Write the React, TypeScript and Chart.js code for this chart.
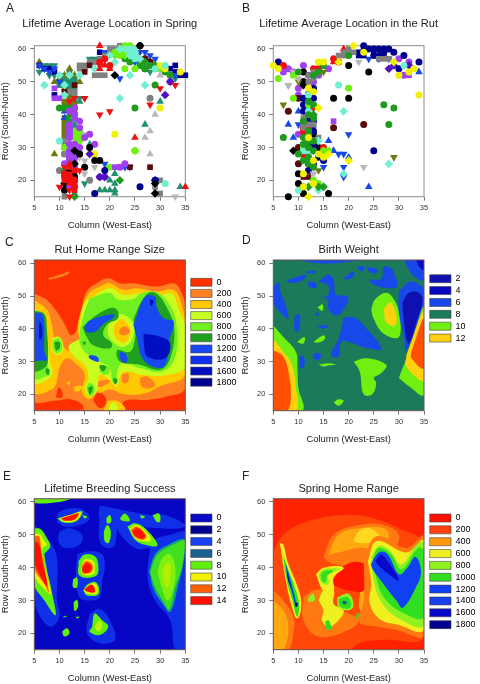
import React, { useEffect, useRef } from "react";
import { Chart, registerables } from "chart.js";
Chart.register(...registerables);

const FONT = "'Liberation Sans', Arial, sans-serif";
const xTicks = [5, 10, 15, 20, 25, 30, 35];
const yTicks = [20, 30, 40, 50, 60];

// ---- Panel A: lifetime average location in spring (flat x,y pairs) ----
const springRedDown = [10,18, 11,21, 12,15, 12,17, 12,22, 13,19, 14,23, 15,45, 18,40, 20,41, 28,43, 30,48, 33,49, 12,44, 13,45, 18,55, 11,24];
const springRedUp = [18,61, 25,33, 35,18, 18,54, 19,55, 12,25, 12,19, 20,54];
const springRedCircle = [18,56, 19,57, 20,55, 13,18, 12,21, 11,22, 13,20];
const springRedSquare = [13,19, 13,17, 12,24, 12,20, 11,20, 13,23];
const springForestCircle = [10,42, 25,42, 29,49, 24,56, 26,55, 27,54, 28,55, 31,53, 23,57, 29,54, 32,52, 11,42, 12,39];
const springForestDiamond = [22,20, 27,56, 29,55, 12,42, 13,15, 11,23];
const springLimeCircle = [20,24, 25,29, 23,54, 25,54, 22,58, 23,61, 21,59, 11,30, 14,33, 13,31, 22,59, 24,61, 13,35];
const springLimeDiamond = [22,60, 23,58, 14,34, 13,33, 14,32, 30,54, 25,29, 21,58, 23,59, 14,35];
const springAquaDiamond = [7,49, 11,46, 22,45, 24,52, 27,49, 24,59, 25,59, 23,60, 22,60, 24,58, 25,58, 20,58, 17,54, 14,52, 10,52, 26,57, 21,56, 19,57, 12,52, 11,49, 13,39];
const springAquaCircle = [24,60, 25,60, 25,57, 31,19, 10,32, 29,54, 31,55];
const springYellow = [21,34, 30,42, 17,28, 31,54, 34,53, 30,55];
const springLightUp = [29,40, 28,35, 27,33, 28,28, 30,52, 14,29];
const springLightDown = [15,34, 15,22, 15,26, 17,24, 33,15, 14,27, 13,26];
const springGraySquare = [14,55, 15,55, 15,54, 16,56, 17,56, 17,52, 18,52, 19,52, 19,58, 20,60, 21,60, 13,47, 12,47, 13,46, 30,16, 29,18, 30,20, 29,20, 11,15, 11,28, 14,54, 18,57, 20,59, 21,59, 22,61, 11,32];
const springGrayCircle = [28,45, 16,20, 10,23, 13,29, 11,28];
const springBlackCircle = [26,61, 15,24, 16,30, 17,26, 18,26, 13,21, 11,17, 12,20, 14,28];
const springBlackDiamond = [21,52, 26,61, 29,16, 29,19, 12,23, 11,19, 13,29, 13,25];
const springMaroonSquare = [24,24, 28,24, 15,53, 16,55, 11,47, 13,49, 13,22, 13,28];
const springMaroonCircle = [27,57, 27,54, 28,56];
const springNavyCircle = [17,16, 19,23, 26,18, 29,20];
const springNavySquare = [6,55, 7,54, 8,54, 9,53, 33,55, 33,53, 34,52, 35,52, 31,54, 32,54, 9,46, 18,59];
const springBlueDown = [19,25, 22,51, 24,24, 25,56, 23,24, 10,50, 28,58, 29,57, 19,59, 33,52, 7,54, 6,55, 9,54, 8,53, 26,59, 27,59];
const springBlueUp = [11,39, 12,29, 11,41];
const springPurpleCircle = [13,40, 12,41, 13,42, 14,38, 14,36, 12,34, 12,33, 12,31, 13,31, 14,30, 17,31, 16,34, 15,33, 11,25, 12,27, 12,26, 13,27, 13,24, 11,21, 11,18, 23,25, 22,24, 19,21, 18,21, 32,50, 12,37, 13,39, 12,28, 12,36, 12,35, 13,30, 13,28, 12,25, 12,18, 11,19, 12,29];
const springPurpleSquare = [9,48, 9,45, 10,45, 21,24, 22,24, 12,28, 12,27, 13,26];
const springIndigoDiamond = [31,46, 16,28, 32,50, 29,20, 18,21, 19,21];
const springOliveUp = [6,56, 12,54, 13,52, 14,50, 11,52, 9,50, 9,28, 11,48, 10,51, 12,52, 11,30];
const springOliveSquare = [11,35, 11,37, 11,33, 12,45, 11,44, 12,43, 12,42, 13,41, 11,36, 11,34, 11,38, 12,46, 12,44, 13,43, 28,55, 26,56, 30,54, 11,39, 12,40, 11,43, 12,47, 11,31];
const springTealDown = [7,54, 6,53, 8,55, 9,52, 10,52, 11,50, 12,50, 14,45, 15,45, 15,19, 7,55, 13,49, 16,57, 17,57, 13,38, 13,36, 28,53, 33,51, 8,52, 9,55];
const springTealUp = [13,37, 13,35, 13,33, 18,17, 19,17, 20,17, 21,16, 21,17, 20,20, 21,19, 21,22, 27,37, 30,44, 34,18, 13,16, 16,31, 13,39, 13,41, 14,44, 12,38];
const springTealSquare = [12,50, 13,51, 11,51, 12,49, 13,50, 11,49, 13,44, 11,22, 12,48, 32,52, 10,50, 11,50, 12,51, 10,49, 13,48, 12,53];

// ---- Panel B: lifetime average location in the rut ----
const rutBlack = [8,15, 11,16, 10,19, 10,22, 16,16, 24,53, 20,55, 17,45, 20,45, 14,30, 11,50, 13,34, 11,53, 12,31];
const rutBlackDiamond = [9,29, 14,29, 11,49, 13,31];
const rutYellow = [34,46, 30,52, 32,53, 33,54, 6,54, 11,22, 15,56, 14,56, 13,19, 11,18, 15,27, 12,48, 23,59, 5,55, 13,26, 12,33, 13,47, 14,28];
const rutYellowDiamond = [12,15, 21,61, 14,42, 29,56, 20,26, 16,28, 18,56];
const rutLime = [6,51, 20,48, 9,45, 9,52, 16,29, 15,29, 13,20, 14,19, 12,43, 11,30];
const rutAqua = [18,49, 10,17, 12,46, 31,55, 12,41, 11,29, 12,29];
const rutAquaDiamond = [19,41, 28,25, 19,22, 14,17, 14,32];
const rutForest = [27,43, 29,42, 28,37, 7,33, 20,58, 13,52, 12,33, 11,33, 12,32, 13,32, 12,30, 11,31, 12,27, 13,43, 12,44, 10,53, 12,35, 13,39, 12,25, 14,53, 11,38, 12,40, 10,28, 13,29, 11,26, 13,24, 15,55];
const rutForestDiamond = [15,18, 11,18, 12,18, 14,18, 13,40, 12,34];
const rutMaroon = [8,41, 17,36, 23,37, 10,45, 10,30, 10,25, 11,50];
const rutMaroonSquare = [12,21, 11,21];
const rutOliveDown = [7,43, 29,27, 14,23, 10,50, 15,53];
const rutNavy = [23,61, 24,60, 25,60, 26,60, 27,60, 28,60, 29,59, 25,29, 6,56, 30,54, 34,56, 13,45, 11,43, 11,41, 13,35, 12,38, 13,25, 12,23, 15,26, 14,27, 11,45, 27,59, 31,58, 13,30, 13,48, 12,42, 13,38, 25,58, 26,58];
const rutNavySquare = [22,58, 23,58, 23,60, 25,59, 27,58, 22,59, 12,31];
const rutBlueUp = [8,37, 9,33, 10,41, 16,32, 17,29, 20,27, 24,18, 34,53, 12,47];
const rutBlueDown = [20,34, 18,28, 19,28, 19,24, 19,21, 15,24, 10,37, 8,49, 24,57, 26,57, 13,36, 28,57, 13,29, 12,39, 12,36, 13,31, 11,31];
const rutPurple = [11,55, 16,54, 14,52, 10,48, 10,34, 8,54, 7,53, 6,55, 30,57, 32,56, 31,52, 13,50, 9,53, 10,46, 12,52];
const rutIndigoDiamond = [28,54, 29,55, 32,55];
const rutPurpleSquare = [17,38, 32,52, 12,50];
const rutGraySquare = [11,39, 11,37, 11,36, 12,37, 13,37, 12,50, 13,51, 13,53, 12,52, 18,58, 19,59, 20,60, 21,59, 28,57, 27,57, 26,57, 14,33, 12,28, 19,58, 20,59, 11,38];
const rutLightDown = [22,56, 23,24, 8,49, 13,22, 12,29, 9,53, 10,51];
const rutRed = [18,56, 17,57, 7,55, 14,54, 11,36, 12,36, 12,46, 11,35, 15,30, 13,54];
const rutRedUp = [19,60, 17,56, 11,28, 12,25, 12,36];
const rutRedDown = [12,48, 14,54, 13,42, 11,34, 11,27];

// ---- Legends ----
const rutRangeLabels = ["0","200","400","600","800","1000","1200","1400","1600","1800"];
const rutRangeColors = ["#ff3000","#ff8020","#ffc800","#c8ff20","#70f020","#20a020","#1848f0","#1030f0","#0010c0","#000090"];
const weightLabels = ["2","4","6","8","10","12"];
const weightColors = ["#1010b0","#0808c0","#1848e8","#1a7a5a","#70f010","#ffd010"];
const breedingLabels = ["0","2","4","6","8","10","12","14"];
const breedingColors = ["#0808c8","#000090","#1840f0","#1a6090","#60f010","#f0f000","#ff6000","#ff1000"];
const springRangeLabels = ["0","200","400","600","800","1000","1200","1400","1600","1800"];
const springRangeColors = ["#ff1000","#ff4010","#ff9a10","#f0f020","#90f020","#30e020","#1040f0","#1840e8","#0808c8","#000090"];

// ---- Contour bands, painted in order: [colour, x,y, x,y, ...] ----
type Band = [string, number[]];
const rutRangeBands: Band[] = [
  ["#ff3000",[5,61, 35,61, 35,15, 5,15]],
  ["#ff8020",[7.8,55.5, 10,56.5, 12,57.5, 11.5,56.5, 8,55]],
  ["#ff8020",[5,50.8, 7.5,48.8, 9.5,45.2, 11,41.5, 12.4,38, 13.8,41, 14.6,47.3, 15.4,51.4, 17.4,53.9, 19.7,55.4, 22,53.9, 24.7,53.9, 29.4,52.9, 32.7,53.9, 34,51.9, 35,46.3, 35,22, 31.3,19.3, 27.4,18.3, 23,18, 21.5,15, 15,15, 14.5,17, 12,18.5, 9,18, 5,18.3]],
  ["#ff3000",[16.7,18, 17.5,20.3, 19,19.5, 19.2,17, 18,15.8]],
  ["#ff3000",[9.3,19, 9.8,22, 10.5,21, 10.5,19]],
  ["#ffc800",[5,48.8, 7.5,45.8, 8.5,41.2, 9,37.5, 10.4,35, 12.4,33, 14,35.6, 13.6,40, 14.4,46, 15.8,50.8, 18.7,53.4, 20,54, 22.7,51.9, 25.4,52.4, 29.4,51.4, 32.7,51.9, 34.3,47.3, 35,40.7, 35,26, 30,22.5, 27,20.3, 23,20, 20,21.5, 18,20.5, 17.5,21, 16,18.5, 14.5,20.5, 15,26, 13.5,29, 11.5,31, 10,28, 9.5,24, 8.5,21.5, 5,20.8]],
  ["#ffc800",[19.5,18, 21.5,18, 23,16, 23,15, 19,15]],
  ["#c8ff20",[20,17, 21,17.5, 21.5,15, 20,15]],
  ["#ffc800",[11.3,23.5, 12,24, 12,22.8]],
  ["#ffc800",[13,22.5, 14.5,22.5, 14,21, 13,21]],
  ["#ff8020",[22.4,26, 23.6,26.4, 23.7,24, 23,23.4, 22.4,24]],
  ["#ff8020",[26,25, 27.5,25.4, 29,23, 28,21.8, 26.3,22.5]],
  ["#ff8020",[17,23.5, 19,24.4, 20,24, 18.5,22.4, 17,22.5]],
  ["#c8ff20",[5,46.3, 6.8,44.2, 7.5,40.2, 8.1,30, 8.5,26, 6.1,23.4, 5,23.4]],
  ["#c8ff20",[14,37, 14,41, 15,47.8, 16.7,49.8, 20,52.4, 22.7,50.3, 26,50.8, 29.4,49.8, 32.3,50.8, 33.7,45.8, 35,40.7, 35,28.5, 31.3,25.9, 26.7,25.9, 22.7,26.9, 21.4,22.4, 20,24.4, 18,26, 17.4,20.8, 16,19.3, 15,21.9, 15.8,25, 15,29, 13,31.5, 11.8,34.5]],
  ["#c8ff20",[8.5,37, 10,37.5, 10.8,34, 9.7,32, 8.5,33.5]],
  ["#70f020",[5,45.8, 6.5,44.7, 7.1,40.2, 7.5,30, 8.1,26, 7.5,25.5, 5,25]],
  ["#70f020",[16,49.3, 20,51, 21.5,49, 24.5,49, 26.5,51, 29.5,51, 32,47, 33.3,41, 33,31.5, 30.5,27, 26,28, 22.5,29.5, 21.5,27, 21.3,23.5, 20.5,24, 20,28, 18,30, 15,33, 14,36, 14,39, 14.8,44.2]],
  ["#70f020",[15.3,22, 16,23.5, 17,22, 16.7,20, 16,19.5]],
  ["#70f020",[8.7,36.5, 10,37, 10.5,34, 9.5,32.5, 8.7,34]],
  ["#70f020",[18.5,29, 20,28, 19.5,26, 18,27]],
  ["#c8ff20",[19.7,41.5, 22,44.5, 24.5,42, 24.5,37, 22.7,34.5, 21,35.5, 19.7,38]],
  ["#ffc800",[20.8,41, 22.3,43, 23.8,41, 24,38, 23,35.7, 21.6,36.5, 20.8,38.5]],
  ["#ff8020",[21.8,39.5, 22.8,40.8, 24,39.5, 23.3,38.2, 22,38.3]],
  ["#20a020",[5,45.5, 7,44.5, 7.5,40, 7.7,30, 7,28, 5,27.3]],
  ["#20a020",[24.7,43, 27,50, 29,51, 31.5,46, 32.8,40, 32,31, 30,27.5, 26,29, 22,30, 21.5,33.5, 24,33, 25,37, 25,40]],
  ["#20a020",[14.6,40.5, 16,42.5, 18.4,45.2, 21,46.3, 21.7,43.4, 19.4,41.2, 18.7,38, 20.4,35.6, 20,34, 16.7,35, 15.4,37.6]],
  ["#20a020",[9,36, 10,36, 10,34, 9.3,33.5]],
  ["#20a020",[14.5,36, 15.2,36, 15,35]],
  ["#20a020",[18,29, 19.3,28.5, 18.7,27, 18,28]],
  ["#20a020",[20.7,25, 21.5,24.5, 21.2,23, 20.8,23.5]],
  ["#20a020",[15.7,22, 16.5,22.5, 16.5,21, 16,20]],
  ["#20a020",[7.3,28, 8,27.5, 7.8,26, 7.3,26.5]],
  ["#1848f0",[5,45, 6.5,44.5, 7,41, 7,33, 7.5,30.5, 6.5,30.3, 5,30.5]],
  ["#1848f0",[15,40.7, 16,42.5, 20.7,44.5, 20.8,43.5, 18.7,41.5, 17,39, 15.2,39.2]],
  ["#1848f0",[24.7,41.2, 27,49.8, 29,49.8, 29.3,46.8, 30.7,43.2, 32.7,42.2, 31.7,36, 31.3,30, 30,28, 26.7,30.5, 25.4,37]],
  ["#1848f0",[22,33, 23,32.5, 23.5,30.5, 23,29.5, 22,31]],
  ["#1848f0",[16,32, 17.5,31.5, 17.8,30, 16.7,30.3, 15.8,31.3]],
  ["#0010c0",[26.7,38.6, 30,37.6, 32,35.6, 31,31, 27.5,31.5, 26.8,35]],
  ["#0010c0",[28,49, 28.7,48.5, 28.3,47, 28,47.5]],
  ["#0010c0",[6,42.5, 6.5,41, 6.5,37, 6,37]],
];
const weightBands: Band[] = [
  ["#1a7a5a",[5,61, 35,61, 35,15, 5,15]],
  ["#1848e8",[10,61, 14,60, 17,60, 20,60.5, 22,61]],
  ["#1848e8",[31,61, 35,61, 35,55, 33,56, 32,58]],
  ["#0808c0",[33.5,61, 35,61, 35,58, 34,59]],
  ["#1848e8",[5,53, 6,54, 6.5,51, 7.5,47, 8,43, 7,44, 5,48]],
  ["#1848e8",[7.5,54.5, 9,55.5, 11.5,56.5, 11,55, 9,54]],
  ["#1848e8",[12,54.5, 13.5,54, 13.5,52.5, 12,53]],
  ["#1848e8",[11.5,57.5, 13.5,57.7, 13.3,57, 11.5,57]],
  ["#1848e8",[9.3,44, 10.2,44.5, 10.3,41, 9.8,39, 9.2,40]],
  ["#1848e8",[14,54.5, 16,56.5, 17,55, 17.5,50.5, 19.7,50, 19.8,48, 17.7,44, 16,46, 15.8,49, 13.5,49.5, 15.7,50, 16,53]],
  ["#1848e8",[19,55.5, 21,57.5, 21,56, 19.5,55]],
  ["#1848e8",[21.8,59, 23,59, 23,57.7, 22,58]],
  ["#1848e8",[23.5,59, 25.8,58, 25.5,57, 24,57.5]],
  ["#1848e8",[24,55, 26.5,55.3, 27,59, 28.5,58.5, 29,57, 29.7,53, 27,52.5, 24.5,54]],
  ["#1848e8",[19,43.5, 21,43.5, 23,41, 26.5,34, 24,34, 20,36, 18.5,36, 18,31.5, 16.5,32, 18,37]],
  ["#1848e8",[13,32.5, 14.5,32.3, 14,30.5, 13,31]],
  ["#1848e8",[13.5,41, 16,41, 15,40]],
  ["#1848e8",[13.3,44.7, 14,44.9, 13.8,43.8]],
  ["#1848e8",[10.2,32, 11.2,31, 11,28, 10.3,28.5]],
  ["#1848e8",[30,51.5, 31,53, 32.5,54.5, 35,52, 35,48, 34,42, 32,35, 31.3,33, 31,38, 30,44]],
  ["#1010b0",[30.7,48, 32,51, 34,51, 34.7,48.5, 33.5,42, 32.5,37, 31.8,35.5, 31,42]],
  ["#70f010",[30,25, 31,29, 31.8,32, 33,38, 35,46.5, 35,20, 32,22.5]],
  ["#ffd010",[31.5,32, 35,45, 35,24.5, 31.5,28.5]],
  ["#ff5000",[32.5,33, 35,43, 35,28, 32.5,31]],
  ["#70f010",[5,41, 7,37.5, 9.5,33, 9.8,28, 10,22, 10.8,15, 5,15]],
  ["#ffd010",[5,37, 7,33, 8.7,29, 9.5,22, 9.5,15, 5,15]],
  ["#ff5000",[5,33.5, 7,31.5, 8,27, 8.5,20, 7.8,15, 5,15]],
  ["#70f010",[24.5,46, 25.3,49, 27.5,51, 29,49, 30,45, 30,37.5, 27,38.5, 25,43]],
  ["#ffd010",[27,46, 28.3,48, 29.5,44, 29.2,41, 27.5,42]],
  ["#70f010",[21,30, 23.5,31, 27.5,29, 26.5,26.5, 25,25, 25.5,23.5, 24.7,20, 23,20, 22.2,27]],
  ["#70f010",[17,17.5, 18,18.5, 19,18, 18,16.5]],
  ["#70f010",[9.7,36, 11.2,37.5, 11,35.5]],
  ["#70f010",[13,36, 15,38, 15.3,37, 14,35.8]],
  ["#70f010",[13.8,46.5, 14.8,47.5, 14.8,45.5]],
  ["#70f010",[14,29, 16,29.5, 17.5,29, 16,28.8, 15,28.5]],
];
const breedingBands: Band[] = [
  ["#0606c4",[5,61, 35,61, 35,15, 5,15]],
  ["#1030e8",[28,46, 29,48.5, 32,50, 35,50.5, 35,15, 33,15, 32,24, 29,30, 27.5,37]],
  ["#1030e8",[5,53, 8,48, 9.5,43, 9.5,30, 10,25, 8,22, 5,30]],
  ["#1030e8",[13.5,44, 16,45, 18.5,44, 19,40, 18.5,36, 18,31, 16,30, 14,31, 13.3,37]],
  ["#1030e8",[16,26, 18,27.5, 20,24, 21,18, 18,17, 15.5,20]],
  ["#1030e8",[10,51, 12,52, 14.5,50, 14,47, 11,46, 9.8,48]],
  ["#1030e8",[22,56.5, 24,55, 27,49, 31,46, 28,46, 25,46, 21,53]],
  ["#1030e8",[9.5,54, 10,57, 14,58, 16,55, 14,53, 11,52.5]],
  ["#1030e8",[18,59, 28,56, 31,56, 35,53, 34,52, 30,52, 24,53, 20,55, 18,55]],
  ["#1030e8",[18,56, 21,56, 21,47, 19.5,46, 18,48]],
  ["#60f010",[5,61, 12,61, 10,60, 5,59.7]],
  ["#60f010",[5,52, 6.3,51.7, 7.5,49, 8.2,46.5, 7.5,45, 7,44, 8.7,31, 9.2,25.5, 7,30, 5,35]],
  ["#f0f000",[5,50, 6,50.3, 7,48, 7.5,47, 6.6,46, 6.8,42, 8.3,32, 7,33.5, 5,38]],
  ["#ff6000",[5,49.5, 6,49.5, 6.3,46, 7.9,32.5, 7,35, 5,40]],
  ["#ff1000",[5.2,48, 6,47, 6.5,43, 7.5,34.5, 6,38, 5,42]],
  ["#60f010",[9.5,55, 12,56, 14.5,57.2, 13.5,54.3, 11,53.7]],
  ["#f0f000",[10,55, 12,56, 14.2,56.8, 13.3,54.5, 11,54]],
  ["#ff1000",[10.3,55, 12,55.8, 13.8,56.5, 13,54.7, 11,54.3]],
  ["#60f010",[13.8,42, 15,44, 17,43.5, 17.7,41, 17.3,37.5, 14,37.5]],
  ["#f0f000",[14.5,41, 15,42.5, 16.7,42, 17,40, 16.7,38, 14.5,38]],
  ["#ff6000",[14.5,40.5, 15.3,42, 16.5,41, 16.5,39, 15.5,38.2, 14.6,38.3]],
  ["#ff1000",[14.5,40, 15.5,41.5, 16.3,40, 15.7,38.5, 14.7,38.7]],
  ["#60f010",[14.7,33, 15.5,34.8, 17.3,35.5, 17.8,32, 15.5,31.5]],
  ["#f0f000",[14.9,33.3, 16,34.9, 17.2,35, 17.4,32.2, 15.3,32.3]],
  ["#ff1000",[15,33.5, 16.5,34.8, 17,32.5, 15.3,32.8]],
  ["#60f010",[16.5,22, 17,26, 18.5,24, 19.7,22, 18,19.5, 16,20.5]],
  ["#c0f000",[17,22, 18,24, 18.5,22, 17.7,20.5]],
  ["#60f010",[23.5,52.5, 25,53.5, 27,52, 29.5,46.8, 27,47, 25,48.5]],
  ["#f0f000",[24,52, 25.2,53, 26.8,51.5, 28.2,48.5, 26.7,48, 25,49]],
  ["#ff6000",[24.2,51.5, 25.3,52.5, 27.2,50, 26.7,48.5, 25,49.3]],
  ["#ff1000",[24.5,51, 25.5,52, 27,49.8, 26.5,48.8, 25,49.7]],
  ["#60f010",[18.8,51, 19.5,53, 20.2,51, 19.8,47.5, 19,48]],
  ["#60f010",[19.3,55, 20,56, 20.3,54, 19.5,53.5]],
  ["#60f010",[14.5,56, 15.5,55.5, 15,55]],
  ["#60f010",[22,55, 23,56.5, 24,54.3, 22.5,54.3]],
  ["#60f010",[26,56, 27,55.5, 26.3,55]],
  ["#60f010",[28.5,56, 29.8,56.5, 30,54, 29.3,54]],
  ["#60f010",[12.7,36.5, 13.5,37, 13.5,34, 12.7,34]],
  ["#60f010",[12.8,29.5, 13.5,30.2, 13.7,28, 13,26.8]],
  ["#60f010",[10.5,20.5, 11.5,21.5, 12,20, 11,19]],
  ["#60f010",[10.7,25, 11.5,25.3, 10.9,24.8]],
  ["#60f010",[13.2,25, 14,25, 13.5,24.5]],
  ["#10a080",[27.8,39, 29,44, 31,46.5, 35,48.5, 34.7,42, 33.5,34, 32,26.5, 30.5,29, 28.8,33]],
  ["#40e020",[28,38.5, 29.5,44, 33,47.3, 35,48, 34.3,40, 33,34, 31.8,27.3, 30.5,30, 29,34]],
  ["#80f010",[29.5,39, 30.5,43, 32,44, 33,40, 32.7,34, 31.5,30, 30.3,34]],
  ["#b0f000",[30.5,38, 31,41, 32,41, 32,37, 31.5,34, 30.8,35]],
];
const springRangeBands: Band[] = [
  ["#ff2200",[5,61, 35,61, 35,15, 5,15]],
  ["#ff4808",[5,45, 7,50, 10,53, 14,55, 20,56, 25,55, 30,52, 35,47, 35,19, 27,18, 22,17, 20,15, 5,15]],
  ["#ff7a10",[15,43, 17,50, 22,53, 27,53, 30,50, 29,46, 25,44, 22,41, 17,41]],
  ["#ff7a10",[5,33, 7,30, 9,25, 9,20, 8,15, 5,15]],
  ["#ffa810",[16,44, 18,50, 22,52, 27,52, 28,49, 25,46, 22,46, 19,45]],
  ["#ffa810",[5,30, 7,27, 8,22, 7,15, 5,15]],
  ["#ffa810",[22.3,33, 24,33, 25,27, 22.3,27]],
  ["#ffd820",[21,48, 22,51, 24,52, 26,50, 26,48, 24,47.5, 22,47.5]],
  ["#ff7a10",[11,31, 13,33, 17,33, 17,28, 20,26, 22,24, 20,21, 14,19, 11,24]],
  ["#ff1400",[16.5,35, 19,40.5, 22.6,41.5, 23.5,38, 23,33, 20,33, 18,34]],
  ["#f0f020",[14,30, 15,33, 17,33, 17,29, 19,27, 18,24, 16,22, 14.7,24, 15,27]],
  ["#f0f020",[13.5,38, 15,40, 19,40, 17,37, 17,33, 15,33]],
  ["#90f020",[14,38, 15,39.5, 18.3,39.5, 16,38, 16,35, 14.6,35.4]],
  ["#30e020",[14.4,37.8, 15.2,39, 17,39, 15.7,37.5, 15.5,35.7, 14.8,35.8]],
  ["#90f020",[12,31, 13,32, 13.2,30, 12,29.7]],
  ["#90f020",[17.7,31, 20,32, 21,28.5, 20,27, 18,28]],
  ["#30e020",[18,30.5, 19.8,31, 20.5,28.5, 19.7,27.5, 18.2,28.5]],
  ["#0a6a70",[19,30, 19.7,29.5, 19.2,28.7, 18.7,29.3]],
  ["#30e020",[21.6,26, 23,26, 24.5,25, 23,24, 21.5,24.5]],
  ["#30e020",[15.3,23.5, 16,24, 16.5,21.5, 15.7,21]],
  ["#f0f020",[6.3,47.5, 7,47, 7.8,42, 10.3,32, 10.5,27, 9.7,24.5, 8.7,28, 7.5,36]],
  ["#30e020",[6.9,44, 7.6,41, 9.9,31, 10.1,27, 9.7,25, 8.8,30, 7.7,36]],
  ["#1040f0",[7.5,41, 8.3,37, 9.6,29, 9.5,28, 8.6,33, 7.8,37]],
  ["#000090",[7.7,39, 8.4,34.5, 8.6,33.5, 8,36]],
  ["#000090",[9.5,29.5, 9.9,29, 9.6,28, 9.3,28.7]],
  ["#ff7a10",[23,42, 25.5,49.5, 31.5,46, 35,49.5, 35,19.5, 29.6,21, 26,22, 22,23.5, 23,30]],
  ["#f0f020",[23.8,42, 25.6,48.1, 31.5,44.6, 35,48.1, 35,21.2, 29.6,22.7, 26.2,24.3, 24.2,29.3, 24.5,35.4]],
  ["#90f020",[24.5,43, 26,46.5, 28,45.5, 30.5,41, 33.5,47, 35,47.5, 35,22.5, 30,24.5, 26.5,29.5, 25,36]],
  ["#30e020",[24.8,43, 26,46, 28.5,44, 30.5,39.5, 33.8,46, 35,45, 35,25, 30.5,26.5, 27,31, 25.5,37]],
  ["#1040f0",[24.9,42.5, 26.2,44.8, 27.8,44, 30,38, 31.7,40, 33.3,43.3, 34.4,38.7, 33.4,34, 30.8,27.8, 29.5,30, 26.7,35.5, 24.5,40.5]],
  ["#0808c8",[25.3,42, 26.5,44, 27.5,42.5, 29.5,38, 30,36, 28,38, 26,40.5]],
];

const COLORS: Record<string,string> = {
  red:"#f01010", forest:"#1e9a1e", lime:"#70f010", aqua:"#70f0d0", yellow:"#f0f000", light:"#b8b8b8",
  gray:"#808080", black:"#000000", maroon:"#5a0a0a", navy:"#000090", blue:"#1848e8", purple:"#a040f0",
  indigo:"#5010c0", olive:"#6e7a10", teal:"#209070",
};
type Series = [number[], string, string];
const springSeries: Series[] = [
  [springTealSquare,"teal","square"],[springTealDown,"teal","down"],[springTealUp,"teal","up"],[springOliveUp,"olive","up"],[springOliveSquare,"olive","square"],
  [springNavySquare,"navy","square"],[springBlueDown,"blue","down"],[springBlueUp,"blue","up"],[springGraySquare,"gray","square"],[springGrayCircle,"gray","circle"],
  [springMaroonSquare,"maroon","square"],[springMaroonCircle,"maroon","circle"],[springForestCircle,"forest","circle"],[springForestDiamond,"forest","diamond"],
  [springLimeCircle,"lime","circle"],[springLimeDiamond,"lime","diamond"],[springLightUp,"light","up"],[springLightDown,"light","down"],[springYellow,"yellow","circle"],
  [springAquaCircle,"aqua","circle"],[springAquaDiamond,"aqua","diamond"],[springPurpleCircle,"purple","circle"],[springPurpleSquare,"purple","square"],
  [springIndigoDiamond,"indigo","diamond"],[springNavyCircle,"navy","circle"],[springBlackCircle,"black","circle"],[springBlackDiamond,"black","diamond"],
  [springRedSquare,"red","square"],[springRedCircle,"red","circle"],[springRedDown,"red","down"],[springRedUp,"red","up"],
];
const rutSeries: Series[] = [
  [rutPurple,"purple","circle"],[rutIndigoDiamond,"indigo","diamond"],[rutPurpleSquare,"purple","square"],[rutMaroon,"maroon","circle"],[rutMaroonSquare,"maroon","square"],
  [rutBlack,"black","circle"],[rutBlackDiamond,"black","diamond"],[rutOliveDown,"olive","down"],[rutBlueUp,"blue","up"],[rutBlueDown,"blue","down"],
  [rutNavy,"navy","circle"],[rutNavySquare,"navy","square"],[rutRed,"red","circle"],[rutRedUp,"red","up"],[rutRedDown,"red","down"],
  [rutGraySquare,"gray","square"],[rutLightDown,"light","down"],[rutLime,"lime","circle"],[rutAqua,"aqua","circle"],[rutAquaDiamond,"aqua","diamond"],
  [rutForest,"forest","circle"],[rutForestDiamond,"forest","diamond"],[rutYellow,"yellow","circle"],[rutYellowDiamond,"yellow","diamond"],
];

const toPoints = (flat: number[]) => {
  const out: { x: number; y: number }[] = [];
  for (let i = 0; i < flat.length; i += 2) out.push({ x: flat[i], y: flat[i + 1] });
  return out;
};
const SHAPE: Record<string, any> = {
  circle: { pointStyle: "circle", pointRadius: 3.5, pointRotation: 0 },
  square: { pointStyle: "rect", pointRadius: 4, pointRotation: 0 },
  diamond: { pointStyle: "rectRot", pointRadius: 4.3, pointRotation: 0 },
  up: { pointStyle: "triangle", pointRadius: 4.4, pointRotation: 0 },
  down: { pointStyle: "triangle", pointRadius: 4.4, pointRotation: 180 },
};
const seriesDatasets = (list: Series[]) =>
  list.map(([pts, col, shape]) => ({
    data: toPoints(pts), showLine: false, clip: false as any,
    backgroundColor: COLORS[col], borderColor: COLORS[col], pointBackgroundColor: COLORS[col], pointBorderWidth: 0,
    ...SHAPE[shape],
  })).reverse();
const bandDatasets = (list: Band[]) =>
  list.map(([col, pts], i) => {
    const data = toPoints(pts);
    data.push(data[0]);
    return { data, showLine: true, fill: "shape", tension: i === 0 ? 0 : 0.4, backgroundColor: col, borderColor: col, borderWidth: 0, pointRadius: 0 };
  }).reverse();

type PanelSpec = {
  letter: string; letterX: number; letterY: number; title: string; col: number; row: number; series?: Series[]; bands?: Band[];
  labels?: string[]; colors?: string[]; legendY?: number; legendGap?: number;
};
const panels: PanelSpec[] = [
  { letter:"A", letterX:6, letterY:7.5, title:"Lifetime Average Location in Spring", col:0, row:0, series:springSeries },
  { letter:"B", letterX:242, letterY:7.5, title:"Lifetime Average Location in the Rut", col:1, row:0, series:rutSeries },
  { letter:"C", letterX:5, letterY:241.7, title:"Rut Home Range Size", col:0, row:1, bands:rutRangeBands, labels:rutRangeLabels, colors:rutRangeColors, legendY:54.3, legendGap:11.1 },
  { letter:"D", letterX:242, letterY:240, title:"Birth Weight", col:1, row:1, bands:weightBands, labels:weightLabels, colors:weightColors, legendY:50.7, legendGap:11.87 },
  { letter:"E", letterX:3, letterY:476, title:"Lifetime Breeding Success", col:0, row:2, bands:breedingBands, labels:breedingLabels, colors:breedingColors, legendY:62, legendGap:11.8 },
  { letter:"F", letterX:242, letterY:476, title:"Spring Home Range", col:1, row:2, bands:springRangeBands, labels:springRangeLabels, colors:springRangeColors, legendY:62, legendGap:11.85 },
];
const ROW = [
  { top:0, areaTop:45.7, areaBottom:196.7, titleY:24, xTitleY:225 },
  { top:228, areaTop:32, areaBottom:182.7, titleY:22.3, xTitleY:211.7 },
  { top:456, areaTop:42.7, areaBottom:193.7, titleY:33.3, xTitleY:222.7 },
];
const CANVAS_W = 240, CANVAS_H = 240, TITLE_SIZE = 11.1, AXIS_TITLE = 9.4, TICK = 7.5, LEGEND = 9;

function Panel({ spec }: { spec: PanelSpec }) {
  const ref = useRef<HTMLCanvasElement>(null);
  useEffect(() => {
    const g = ROW[spec.row];
    const left = spec.col === 0 ? 34.3 : 33.3;
    const right = spec.col === 0 ? 185.3 : 184;
    const lh = TITLE_SIZE * 1.2;
    const tTop = g.titleY - lh / 2;
    const xH = g.xTitleY - g.areaBottom + (AXIS_TITLE * 1.2) / 2;
    const isScatter = !!spec.series;
    const legendOn = !!spec.labels;
    const lgLeft = spec.col === 0 ? 190.7 : 189.7;
    const pad = legendOn ? (spec.legendGap as number) - LEGEND : 0;
    const framePlugin: any = {
      id: "frame",
      afterLayout(chart: any) {
        const t = chart.titleBlock;
        const mid = (left + right) / 2;
        t.left = mid - 110; t.right = mid + 110;
        if (!legendOn) return;
        const l = chart.legend;
        const w = l.width, h = l.height;
        l.left = lgLeft - pad;
        l.top = (spec.legendY as number) - LEGEND / 2 - pad;
        l.right = l.left + w; l.bottom = l.top + h;
      },
      [isScatter ? "beforeDatasetsDraw" : "afterDatasetsDraw"](chart: any) {
        const a = chart.chartArea, c = chart.ctx;
        c.save();
        c.strokeStyle = isScatter ? "#8c8c8c" : "#6a5050";
        c.lineWidth = 1;
        c.strokeRect(a.left, a.top, a.right - a.left, a.bottom - a.top);
        c.restore();
      },
    };
    const axis = (title: string, ticks: number[], min: number, max: number, size: number, tickPad: number, isX: boolean) => ({
      type: "linear", min, max,
      afterBuildTicks: (s: any) => { s.ticks = ticks.map((value) => ({ value })); },
      afterFit: (s: any) => { if (isX) s.height = size; else s.width = size; },
      ticks: { autoSkip: false, maxRotation: 0, minRotation: 0, padding: tickPad, color: "#333", font: { family: FONT, size: TICK } },
      grid: { drawOnChartArea: false, drawTicks: true, tickLength: 4, color: "#555", lineWidth: 0.8 },
      border: { display: false },
      title: { display: true, text: title, color: "#222", padding: 0, font: { family: FONT, size: AXIS_TITLE } },
    });
    const chart = new Chart(ref.current as HTMLCanvasElement, {
      type: "scatter",
      data: { datasets: (isScatter ? seriesDatasets(spec.series as Series[]) : bandDatasets(spec.bands as Band[])) as any },
      options: {
        responsive: false, animation: false, events: [],
        layout: { padding: { left: 0, top: 0, right: CANVAS_W - right, bottom: CANVAS_H - g.areaBottom - xH } },
        scales: {
          x: axis("Column (West-East)", xTicks, 5, 35, xH, 3, true),
          y: axis("Row (South-North)", yTicks, 15, 61, left, 4, false),
        } as any,
        plugins: {
          tooltip: { enabled: false },
          title: {
            display: true, text: spec.title, fullSize: false, color: "#222",
            font: { family: FONT, size: TITLE_SIZE, weight: "normal" },
            padding: { top: tTop, bottom: g.areaTop - tTop - lh },
          },
          legend: {
            display: legendOn, position: "chartArea", align: "start",
            labels: {
              boxWidth: 21.3, boxHeight: 8, padding: pad, color: "#222",
              font: { family: FONT, size: LEGEND },
              generateLabels: () => (spec.labels || []).map((text, i) => ({
                text, fillStyle: (spec.colors as string[])[i], strokeStyle: "#444", lineWidth: 0.6, hidden: false, datasetIndex: 0,
              })),
            },
          },
        } as any,
      },
      plugins: [framePlugin],
    });
    return () => chart.destroy();
  }, [spec]);
  const g = ROW[spec.row];
  return (
    <>
      <canvas ref={ref} width={CANVAS_W} height={CANVAS_H}
        style={{ position: "absolute", left: spec.col * 240, top: g.top, width: CANVAS_W, height: CANVAS_H }} />
      <div style={{ position: "absolute", left: spec.letterX, top: spec.letterY - 7, font: `12px ${FONT}`, color: "#222" }}>{spec.letter}</div>
    </>
  );
}

export default function App() {
  return (
    <div style={{ position: "absolute", left: 0, top: 0, width: 480, height: 684, overflow: "hidden", background: "#fff", filter: "blur(0.35px)" }}>
      {panels.map((p) => <Panel key={p.letter} spec={p} />)}
    </div>
  );
}
